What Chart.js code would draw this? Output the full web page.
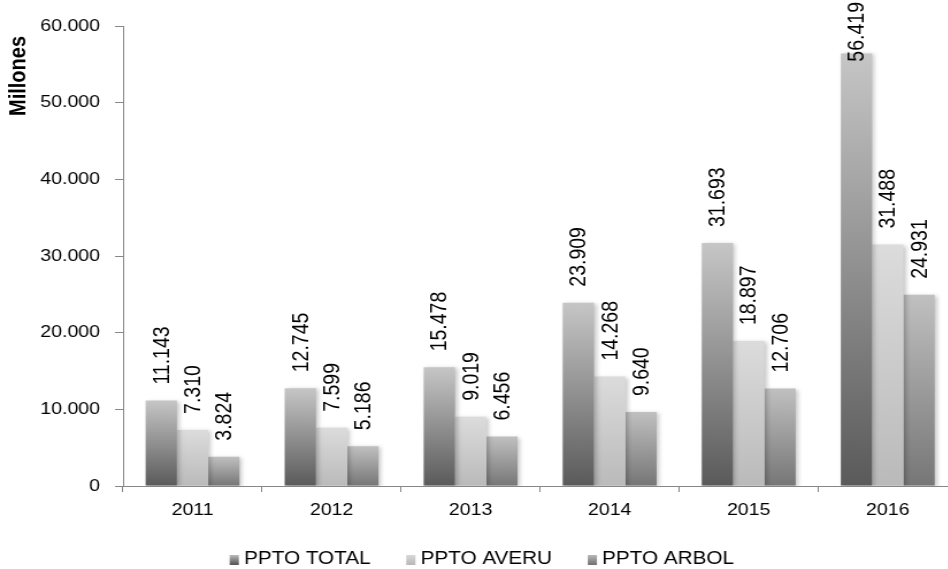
<!DOCTYPE html>
<html>
<head>
<meta charset="utf-8">
<script src="https://cdn.jsdelivr.net/npm/chart.js@4.4.1/dist/chart.umd.min.js"></script>
<style>
  html, body { margin: 0; padding: 0; background: #fff; overflow: hidden; }
  /* the original picture is stretched sideways, so the canvas is too */
  #wrap { position: relative; width: 835px; height: 569px; transform: scaleX(1.15); transform-origin: 0 0; }
</style>
</head>
<body>
<div id="wrap"><canvas id="budgetChart"></canvas></div>
<script>
// Data (millones)
const years = ["2011", "2012", "2013", "2014", "2015", "2016"]
const pptoTotal = [11143, 12745, 15478, 23909, 31693, 56419]
const pptoAveru = [7310, 7599, 9019, 14268, 18897, 31488]
const pptoArbol = [3824, 5186, 6456, 9640, 12706, 24931]
const seriesNames = ["PPTO TOTAL", "PPTO AVERU", "PPTO ARBOL"]

// gradient per series: top colour, bottom colour
const shades = [
  ["#c6c6c6", "#5a5a5a"],
  ["#dcdcdc", "#bababa"],
  ["#c0c0c0", "#767676"],
]

const FONT = "'Liberation Sans', Arial, sans-serif"
Chart.defaults.font.family = FONT

function formatThousands(value) {
  return String(Math.round(value)).replace(/\B(?=(\d{3})+(?!\d))/g, ".")
}

function barGradient(index) {
  return (context) => {
    const chart = context.chart
    const yScale = chart.scales.y
    if (!chart.chartArea || !yScale || context.raw == null) return shades[index][1]
    const top = yScale.getPixelForValue(context.raw)
    const bottom = yScale.getPixelForValue(0)
    const g = chart.ctx.createLinearGradient(0, top, 0, bottom)
    g.addColorStop(0, shades[index][0])
    g.addColorStop(1, shades[index][1])
    return g
  }
}

// soft shadow behind the bars
const barShadow = {
  id: "barShadow",
  beforeDatasetsDraw(chart) {
    const ctx = chart.ctx
    ctx.save()
    ctx.shadowColor = "rgba(0,0,0,0.22)"
    ctx.shadowBlur = 4
    ctx.shadowOffsetX = 2
    ctx.shadowOffsetY = 1
  },
  afterDatasetsDraw(chart) {
    chart.ctx.restore()
  },
}

// rotated value labels above each bar + the axis title
const valueLabels = {
  id: "valueLabels",
  afterDraw(chart) {
    const ctx = chart.ctx
    ctx.save()
    ctx.font = "19.5px " + FONT
    ctx.fillStyle = "#000"
    ctx.textAlign = "left"
    ctx.textBaseline = "middle"
    chart.data.datasets.forEach((dataset, i) => {
      chart.getDatasetMeta(i).data.forEach((bar, j) => {
        const text = formatThousands(dataset.data[j])
        const w = ctx.measureText(text).width
        let start = bar.y - 16
        if (start - w < 2) start = w + 2
        ctx.save()
        ctx.translate(bar.x + 1, start)
        ctx.rotate(-Math.PI / 2)
        ctx.fillText(text, 0, 0)
        ctx.restore()
      })
    })

    // "Millones" title, top of the value axis
    ctx.font = "bold 20px " + FONT
    ctx.textAlign = "right"
    ctx.translate(16, 36)
    ctx.rotate(-Math.PI / 2)
    ctx.fillText("Millones", 0, 0)
    ctx.restore()
  },
}

// legend row at the bottom
const bottomLegend = {
  id: "bottomLegend",
  afterDraw(chart) {
    const ctx = chart.ctx
    const centerX = 419
    const centerY = 559
    const boxW = 8
    const boxH = 10
    const gap = 4.5
    const spacing = 31
    ctx.save()
    ctx.font = "18px " + FONT
    ctx.textBaseline = "middle"
    ctx.textAlign = "left"
    const widths = chart.data.datasets.map((d) => ctx.measureText(d.label).width)
    const total = widths.reduce((a, w) => a + boxW + gap + w, 0) + spacing * (widths.length - 1)
    let x = centerX - total / 2
    chart.data.datasets.forEach((d, i) => {
      const g = ctx.createLinearGradient(0, centerY - boxH / 2, 0, centerY + boxH / 2)
      g.addColorStop(0, shades[i][0])
      g.addColorStop(1, shades[i][1])
      ctx.fillStyle = g
      ctx.fillRect(x, centerY - boxH / 2 + 1, boxW, boxH)
      ctx.fillStyle = "#000"
      ctx.fillText(d.label, x + boxW + gap, centerY)
      x += boxW + gap + widths[i] + spacing
    })
    ctx.restore()
  },
}

const seriesData = [pptoTotal, pptoAveru, pptoArbol]

new Chart(document.getElementById("budgetChart"), {
  type: "bar",
  data: {
    labels: years,
    datasets: seriesData.map((values, i) => ({
      label: seriesNames[i],
      data: values,
      backgroundColor: barGradient(i),
      borderWidth: 0,
    })),
  },
  options: {
    responsive: true,
    maintainAspectRatio: false,
    animation: false,
    devicePixelRatio: 1,
    layout: { padding: { top: 26, right: 2.6, bottom: 0, left: 0 } },
    datasets: { bar: { barPercentage: 1, categoryPercentage: 0.675 } },
    plugins: {
      legend: { display: false },
      tooltip: { enabled: false },
    },
    scales: {
      x: {
        grid: { drawOnChartArea: false, tickLength: 6, color: "#868686" },
        border: { color: "#868686" },
        ticks: { color: "#000", font: { size: 17 }, padding: 8, maxRotation: 0 },
        afterFit(scale) {
          scale.height = 83
        },
      },
      y: {
        min: 0,
        max: 60000,
        ticks: {
          stepSize: 10000,
          color: "#000",
          font: { size: 17 },
          padding: 13,
          callback: (value) => formatThousands(value),
        },
        grid: { drawOnChartArea: false, tickLength: 7, color: "#868686" },
        border: { color: "#868686" },
        afterFit(scale) {
          scale.width = 107
        },
      },
    },
  },
  plugins: [barShadow, valueLabels, bottomLegend],
})
</script>
</body>
</html>
